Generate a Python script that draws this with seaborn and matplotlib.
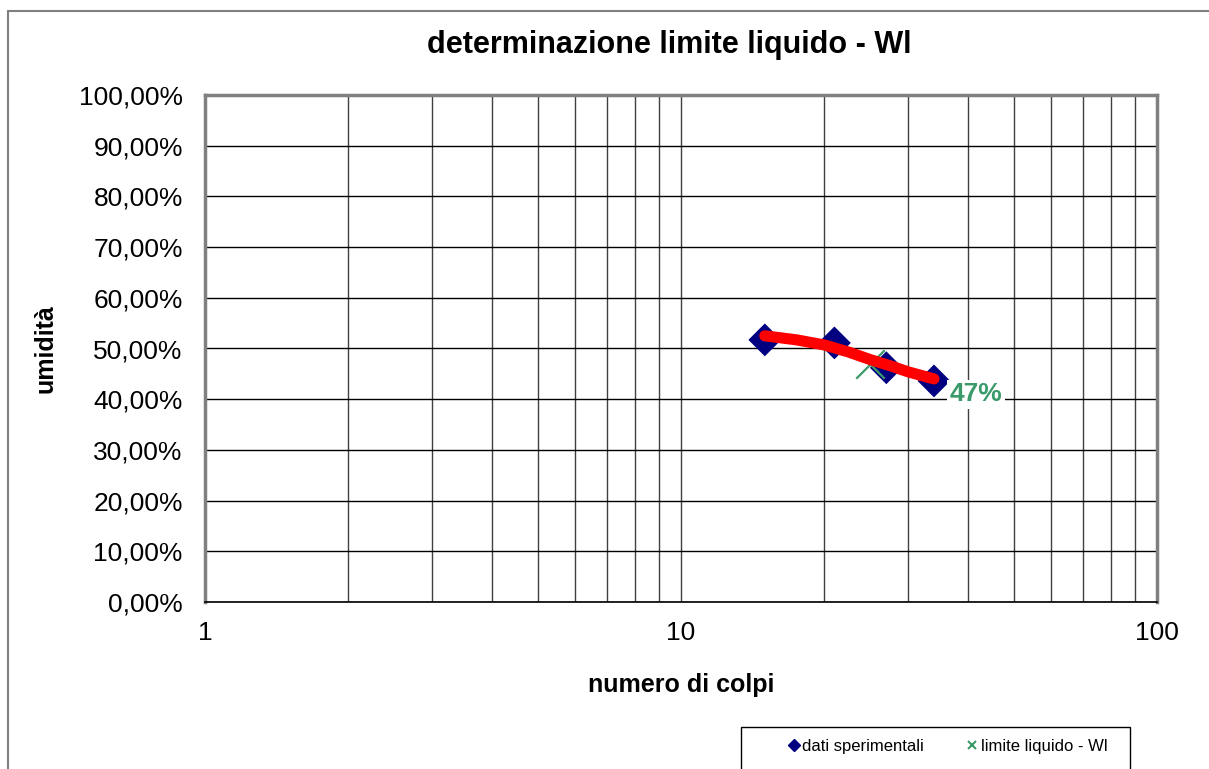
import matplotlib
matplotlib.use("Agg")
import matplotlib.pyplot as plt
import matplotlib.ticker as mticker
from matplotlib.patches import Rectangle
from matplotlib.lines import Line2D
import seaborn as sns
import pandas as pd

# ---- data ----
colpi = [15, 21, 27, 34]
umidita = [0.517, 0.511, 0.462, 0.436]

trend_colpi = [15, 17.5, 20, 22.5, 25, 27.5, 30, 34]
trend_umidita = [0.525, 0.517, 0.507, 0.493, 0.478, 0.466, 0.454, 0.440]

wl_colpi = [25]
wl_umidita = [0.47]
wl_label = "47%"

title = "determinazione limite liquido - Wl"
xlabel = "numero di colpi"
ylabel = "umidità"
legend_labels = ["dati sperimentali", "limite liquido - Wl"]

sns.set_style("white")
plt.rcParams['font.family'] = ['Liberation Sans', 'DejaVu Sans']
plt.rcParams['text.color'] = 'black'
plt.rcParams['axes.labelcolor'] = 'black'
plt.rcParams['xtick.color'] = 'black'
plt.rcParams['ytick.color'] = 'black'

W, H = 1209, 769
fig = plt.figure(figsize=(W / 100, H / 100), dpi=100)
ax = fig.add_axes([205 / W, 1 - 602 / H, (1157 - 205) / W, (602 - 95) / H])

df = pd.DataFrame({"colpi": colpi, "umidita": umidita})
dft = pd.DataFrame({"colpi": trend_colpi, "umidita": trend_umidita})
dfw = pd.DataFrame({"colpi": wl_colpi, "umidita": wl_umidita})

sns.scatterplot(data=df, x="colpi", y="umidita", marker="D", s=280,
                color="#000080", edgecolor="none", ax=ax, zorder=3)
sns.lineplot(data=dft, x="colpi", y="umidita", color="#ff0000", linewidth=8,
             solid_capstyle="round", ax=ax, zorder=4)
sns.scatterplot(data=dfw, x="colpi", y="umidita", marker="x", s=420,
                color="#3a9a6a", linewidth=1.6, ax=ax, zorder=3.5)
ax.annotate(wl_label, (trend_colpi[-1], trend_umidita[-1]), xytext=(30, -11),
            textcoords="offset points", fontsize=19, fontweight="bold",
            color="#3a9a6a", va="center", ha="center", zorder=5,
            bbox=dict(boxstyle="square,pad=0.1", fc="white", ec="none"))

ax.set_xscale("log")
ax.set_xlim(1, 100)
ax.set_ylim(0, 1)
ax.yaxis.set_major_locator(mticker.MultipleLocator(0.1))
ax.yaxis.set_major_formatter(mticker.FuncFormatter(lambda v, p: f"{v*100:.2f}%".replace(".", ",")))
ax.xaxis.set_major_locator(mticker.FixedLocator([1, 10, 100]))
ax.xaxis.set_major_formatter(mticker.FuncFormatter(lambda v, p: f"{v:g}"))
ax.xaxis.set_minor_locator(mticker.LogLocator(base=10, subs=range(2, 10)))
ax.xaxis.set_minor_formatter(mticker.NullFormatter())

ax.grid(True, which="major", axis="y", color="#000000", linewidth=1.0)
ax.grid(True, which="both", axis="x", color="#404040", linewidth=1.0)
ax.set_axisbelow(True)

for s in ["top", "right", "left"]:
    ax.spines[s].set_color("#808080")
    ax.spines[s].set_linewidth(2.5)
ax.spines["bottom"].set_color("#000000")
ax.spines["bottom"].set_linewidth(1.2)

ax.tick_params(axis="both", which="major", labelsize=19, length=6, width=1,
               direction="out")
ax.tick_params(axis="x", which="minor", length=0)
ax.tick_params(axis="y", which="major", pad=10)
ax.tick_params(axis="x", which="major", pad=8)

ax.set_xlabel(xlabel, fontsize=18, fontweight="bold", labelpad=20)
ax.set_ylabel(ylabel, fontsize=18, fontweight="bold", labelpad=15)
fig.text(669 / W, 1 - 45 / H, title, fontsize=22, fontweight="bold",
         ha="center", va="center")

# outer chart frame (cut by image edges)
fig.patches.append(Rectangle((8 / W, -0.1), 1.2, 1 - 11 / H + 0.1,
                             transform=fig.transFigure, fill=False,
                             edgecolor="#808080", linewidth=1.5))
# legend frame
fig.patches.append(Rectangle((741 / W, -0.1), (1130 - 741) / W, 1 - 727 / H + 0.1,
                             transform=fig.transFigure, fill=False,
                             edgecolor="#000000", linewidth=1.0))
handles = [Line2D([], [], marker="D", color="#000080", linestyle="none", markersize=6),
           Line2D([], [], marker="x", color="#3a9a6a", linestyle="none", markersize=6,
                  markeredgewidth=1.5)]
fig.legend(handles, legend_labels, loc="center", bbox_to_anchor=(948 / W, 1 - 746 / H),
           ncol=2, frameon=False, fontsize=12, handlelength=0.6, handletextpad=0.2,
           columnspacing=2.6)

fig.savefig("out.png", dpi=100)
